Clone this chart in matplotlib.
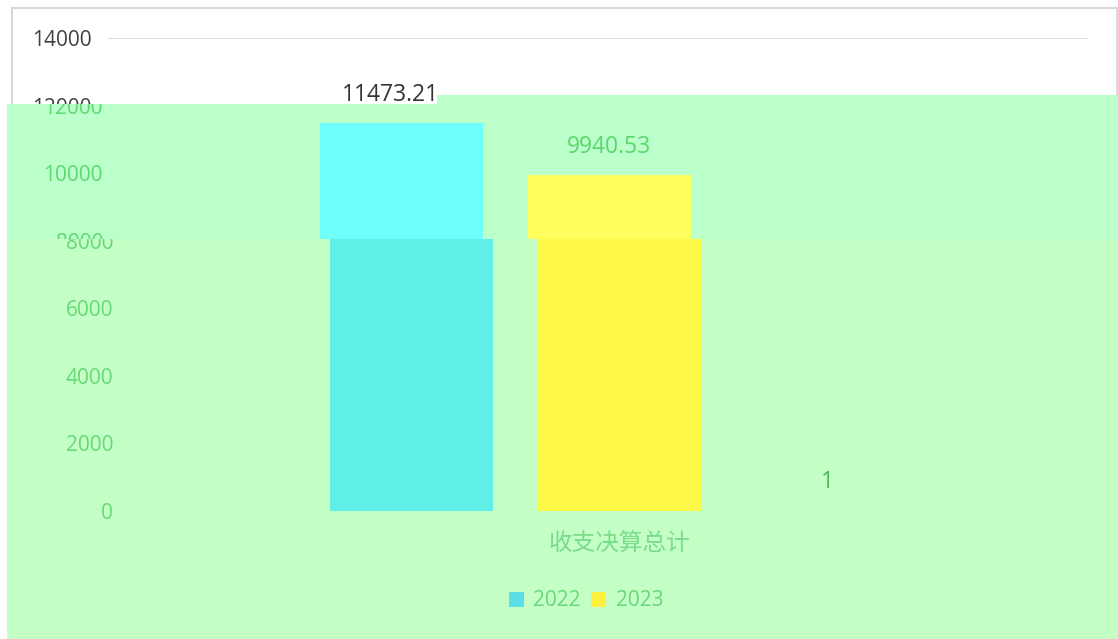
import matplotlib
matplotlib.use('Agg')
from matplotlib import pyplot as plt
from matplotlib.patches import Polygon, Rectangle, Patch
from matplotlib.transforms import Bbox, TransformedBbox
import numpy as np

plt.rcParams['font.family'] = ['Open Sans', 'Noto Sans CJK SC', 'DejaVu Sans']

# data
category = '收支决算总计'
series = ['2022', '2023', '']
values = [11473.21, 9940.53, 1]
value_labels = ['11473.21', '9940.53', '1']
yticks = [0, 2000, 4000, 6000, 8000, 10000, 12000, 14000]

W, H = 1118, 639
fig = plt.figure(figsize=(W / 100, H / 100), dpi=100)
fig.patch.set_facecolor('white')


def fx(x):
    return x / W


def fy(y):
    return 1 - y / H


def clip_box(x0, y0, x1, y1):
    return TransformedBbox(Bbox.from_extents(fx(x0), fy(y1), fx(x1), fy(y0)), fig.transFigure)


# the picture is three horizontal slices of the same chart, each tinted and shifted
layers = [
    dict(dx=0, clip=None, bg=None,
         tick='#404040', label='#333333', bars=['#5EEFE6', '#FFFA4A', '#A0A0A0'], grid=True),
    dict(dx=11, clip=(7, 104, 1118, 239),
         bg=[(7, 104), (437, 104), (437, 95), (1118, 95), (1118, 239), (7, 239)], bgc='#BBFFCA',
         tick='#5DD86E', label='#5BD66B', bars=['#6FFFFA', '#FFFF60', '#9AE0A8'], grid=False),
    dict(dx=21, clip=(7, 239, 1118, 639),
         bg=[(7, 239), (1118, 239), (1118, 639), (7, 639)], bgc='#C4FFC6',
         tick='#66D877', label='#4DB85E', bars=['#5EEFE6', '#FFFA4A', '#9AE0A8'], grid=False,
         legend=True),
]

x = np.arange(len(values)) - 1
half = 490 / 208

for L in layers:
    ax = fig.add_axes([fx(108 + L['dx']), fy(511), 980 / W, 473 / H])
    ax.patch.set_visible(False)
    for s in ax.spines.values():
        s.set_visible(False)

    if L['bg'] is not None:
        ax.add_patch(Polygon([(fx(a), fy(b)) for a, b in L['bg']], closed=True,
                             facecolor=L['bgc'], edgecolor='none',
                             transform=fig.transFigure, clip_on=False, zorder=0.5))
    else:
        ax.add_patch(Rectangle((fx(12), fy(700)), fx(1117) - fx(12), fy(8) - fy(700),
                               facecolor='none', edgecolor='#D9D9D9', lw=1.5,
                               transform=fig.transFigure, clip_on=False, zorder=0.4))

    bars = ax.bar(x, values, width=163 / 208, color=L['bars'], zorder=2)
    ax.set_xlim(-half, half)
    ax.set_ylim(0, 14000)

    ax.tick_params(axis='y', length=0, pad=11.5, labelsize=15, labelcolor=L['tick'])
    ax.tick_params(axis='x', length=0, pad=16, labelsize=17, labelcolor='#7ADB88')
    ax.set_yticks(yticks)
    ax.set_yticklabels([str(t) for t in yticks])
    ax.set_xticks([0])
    ax.set_xticklabels([category])
    if L['grid']:
        ax.yaxis.grid(True, color='#DCDCDC', lw=1.5, zorder=1)
        ax.set_axisbelow(True)

    texts = []
    for xi, v, t in zip(x, values, value_labels):
        texts.append(ax.annotate(t, (xi, v), xytext=(0, 20.5), textcoords='offset points',
                                 ha='center', va='center', fontsize=16.5, color=L['label'],
                                 zorder=3))

    if L['clip'] is not None:
        cb = clip_box(*L['clip'])
        for b in bars:
            b.set_clip_box(cb)
        for t in texts:
            t.set_clip_box(cb)
            t.set_clip_on(True)
        for tk in ax.yaxis.get_major_ticks() + ax.xaxis.get_major_ticks():
            tk.label1.set_clip_box(cb)
            tk.label1.set_clip_on(True)
            tk.gridline.set_clip_box(cb)

    if L.get('legend'):
        handles = [Patch(facecolor=c, edgecolor='none', label=s)
                   for c, s in zip(['#5ADFE8', '#FFF040'], series[:2])]
        leg = ax.legend(handles=handles, loc='center', ncol=2, frameon=False,
                        bbox_to_anchor=(fx(586), fy(601)), bbox_transform=fig.transFigure,
                        fontsize=15, handlelength=0.72, handleheight=0.72,
                        handletextpad=0.48, columnspacing=0.48, borderpad=0)
        for t in leg.get_texts():
            t.set_color(L['tick'])

fig.savefig('out.png', dpi=100, facecolor='white')
